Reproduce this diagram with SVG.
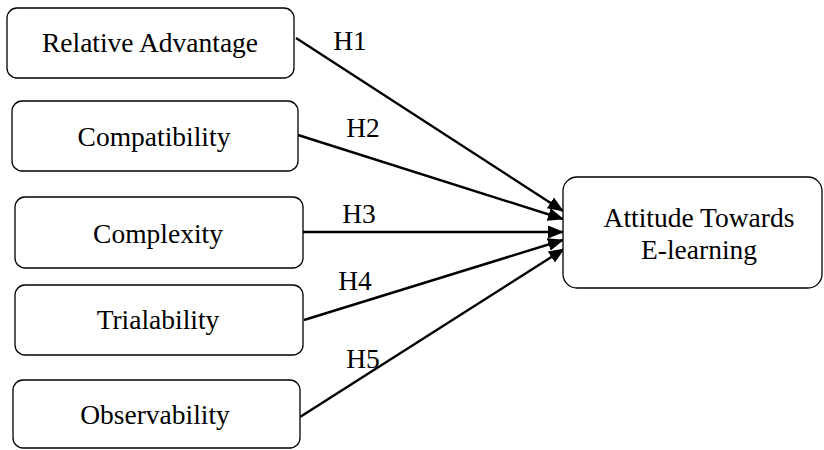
<svg xmlns="http://www.w3.org/2000/svg" width="824" height="450" viewBox="0 0 824 450">
<style>
.box{fill:#fff;stroke:#000;stroke-width:1.3}
.t{font-family:"Liberation Serif",serif;font-size:27.5px;fill:#000;text-anchor:middle}
.c{stroke:#000;stroke-width:2.4;fill:none;marker-end:url(#ah)}
</style>
<defs>
<marker id="ah" viewBox="0 0 16 13" refX="15" refY="6.5" markerWidth="16" markerHeight="13" markerUnits="userSpaceOnUse" orient="auto">
<path d="M0,0 L16,6.5 L0,13 Z" fill="#000"/>
</marker>
</defs>
<rect width="824" height="450" fill="#fff"/>
<g id="connectors">
<line class="c" x1="296" y1="38" x2="563" y2="211"/>
<line class="c" x1="298" y1="135" x2="563" y2="219"/>
<line class="c" x1="303" y1="232" x2="563" y2="232"/>
<line class="c" x1="304" y1="320" x2="563" y2="240"/>
<line class="c" x1="300" y1="417" x2="564" y2="249"/>
<text class="t" x="350" y="50">H1</text>
<text class="t" x="363" y="137">H2</text>
<text class="t" x="359" y="223">H3</text>
<text class="t" x="355" y="290">H4</text>
<text class="t" x="363" y="368">H5</text>
</g>
<g id="n1"><rect class="box" x="7" y="8" width="287" height="70" rx="10"/><text class="t" x="150" y="52">Relative Advantage</text></g>
<g id="n2"><rect class="box" x="12" y="101" width="286" height="70" rx="10"/><text class="t" x="154" y="146">Compatibility</text></g>
<g id="n3"><rect class="box" x="15" y="197" width="288" height="71" rx="10"/><text class="t" x="158" y="243">Complexity</text></g>
<g id="n4"><rect class="box" x="15" y="285" width="288" height="70" rx="10"/><text class="t" x="158" y="329">Trialability</text></g>
<g id="n5"><rect class="box" x="13" y="380" width="287" height="68" rx="10"/><text class="t" x="155" y="424">Observability</text></g>
<g id="target"><rect class="box" x="563" y="177" width="259" height="111" rx="14"/><text class="t" x="699" y="227">Attitude Towards</text><text class="t" x="699" y="259">E-learning</text></g>
</svg>
